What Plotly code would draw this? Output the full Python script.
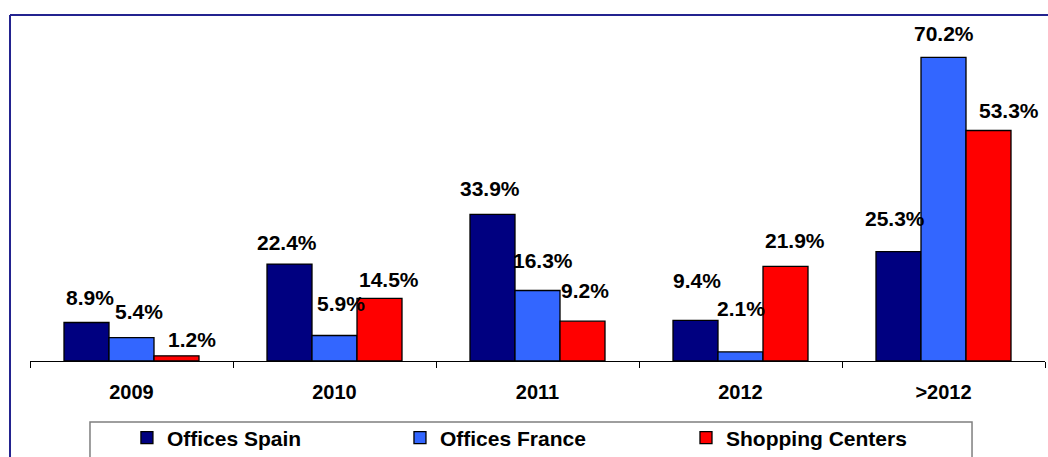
import plotly.graph_objects as go

# ---- data ----
categories = ["2009", "2010", "2011", "2012", ">2012"]
series_names = ["Offices Spain", "Offices France", "Shopping Centers"]
offices_spain = [8.9, 22.4, 33.9, 9.4, 25.3]
offices_france = [5.4, 5.9, 16.3, 2.1, 70.2]
shopping_centers = [1.2, 14.5, 9.2, 21.9, 53.3]

# ---- styles ----
colors = ["#000080", "#3366FF", "#FF0000"]
FONT = "Liberation Sans, Arial, sans-serif"
BAR_PX = 45  # approx bar width in pixels, for label placement
# label offsets (pixels) relative to top-centre of each bar
label_dx = [[3.5, -3, -2.5, 1.5, -4],
            [7.5, 6.5, 5, 0, 0],
            [15, 9, 2, 9.5, 20]]
label_dy = [[25, 22, 25.5, 40, 33.5],
            [26.5, 31.5, 30, 43, 24],
            [16, 19, 31, 26, 20]]
legend_x = [0.0955, 0.3645, 0.6463]

values = [offices_spain, offices_france, shopping_centers]

fig = go.Figure()
legend_ids = ["legend", "legend2", "legend3"]
for i, (name, vals) in enumerate(zip(series_names, values)):
    fig.add_trace(go.Bar(
        x=categories, y=vals, name=name,
        marker=dict(color=colors[i], line=dict(color="#000000", width=1.3)),
        legend=legend_ids[i],
    ))
    for j, v in enumerate(vals):
        fig.add_annotation(
            x=j, y=v, text=f"{v:.1f}%", showarrow=False,  # x = category index
            xshift=(i - 1) * BAR_PX + label_dx[i][j], yshift=label_dy[i][j],
            yanchor="middle", xanchor="center",
            font=dict(family=FONT, size=21, color="#000000", weight="bold"),
        )

legend_common = dict(orientation="h", xanchor="left", yanchor="middle", y=-0.2225,
                     bgcolor="rgba(0,0,0,0)", borderwidth=0,
                     font=dict(family=FONT, size=21, color="#000000", weight="bold"))
fig.update_layout(
    width=1048, height=457,
    margin=dict(l=30, r=3, t=15, b=96, autoexpand=False),
    paper_bgcolor="#FFFFFF", plot_bgcolor="#FFFFFF",
    barmode="group", bargap=0.335, bargroupgap=0,
    font=dict(family=FONT, size=20, color="#000000", weight="bold"),
    legend=dict(x=legend_x[0], **legend_common),
    legend2=dict(x=legend_x[1], **legend_common),
    legend3=dict(x=legend_x[2], **legend_common),
    xaxis=dict(type="category", categoryorder="array", categoryarray=categories,
               range=[-0.5, len(categories) - 0.5],
               showline=True, linecolor="#000000", linewidth=1,
               ticks="outside", ticklen=6, tickcolor="#000000", tickwidth=1,
               tickson="boundaries", showgrid=False, ticklabelstandoff=13,
               automargin=False,
               tickfont=dict(family=FONT, size=20, color="#000000", weight="bold")),
    yaxis=dict(range=[0, 80], visible=False, showgrid=False, zeroline=False, automargin=False),
    showlegend=True,
)

# outer border (top and left)
fig.add_shape(type="line", xref="paper", yref="paper", x0=-0.0197, x1=1.1, y0=1.0, y1=1.0,
              line=dict(color="#23238F", width=2))
fig.add_shape(type="line", xref="paper", yref="paper", x0=-0.0197, x1=-0.0197, y0=1.0, y1=-0.4,
              line=dict(color="#23238F", width=2))
# legend box
fig.add_shape(type="rect", xref="paper", yref="paper", x0=0.0591, x1=0.9281, y0=-0.4, y1=-0.1763,
              line=dict(color="#7F7F7F", width=1.5), fillcolor="rgba(0,0,0,0)")

fig.write_html("out.html", config={"displayModeBar": False},
               post_script="document.body.style.margin='0';document.body.style.overflow='hidden';")
